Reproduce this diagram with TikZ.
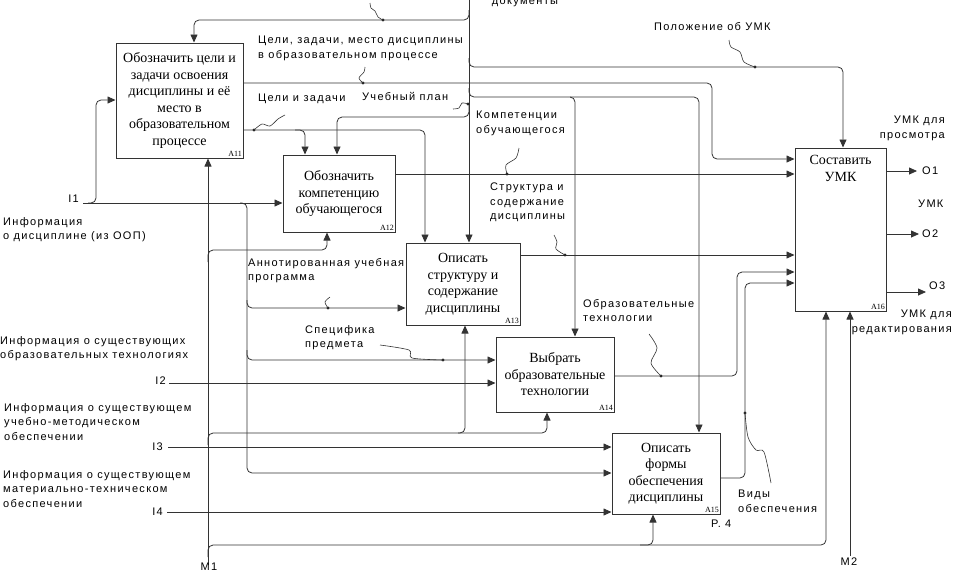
\documentclass[tikz,border=0pt]{standalone}
\usepackage{fontspec}
\setmainfont{Liberation Serif}
\newfontfamily\labfont{Liberation Sans}[LetterSpace=12]
\usetikzlibrary{arrows.meta,positioning}
\tikzset{
  >={Triangle[length=8pt,width=7pt]},
  box/.style={draw=black!80, line width=1pt, align=center, inner sep=2pt,
    font=\fontsize{14}{16.5}\selectfont},
  boxtext/.style={align=center, inner sep=0pt, font=\fontsize{14}{16.5}\selectfont},
  num/.style={inner sep=1.5pt, font=\fontsize{8}{9}\selectfont},
  lab/.style={align=left, inner sep=0pt, font=\labfont\fontsize{11}{14.5}\selectfont},
  conn/.style={draw=black!80, line width=0.8pt, rounded corners=5pt},
  leader/.style={draw=black!80, line width=0.6pt}
}

\begin{document}
\begin{tikzpicture}[x=1pt,y=-1pt]
        \useasboundingbox (0,0) rectangle (953,574);

        % Boxes
        \node[box, minimum width=127pt, minimum height=115pt] (A11) at (179.5,100.5)
          {Обозначить цели и\\задачи освоения\\дисциплины и её\\место в\\образовательном\\процессе};
        \node[box, minimum width=112pt, minimum height=77pt] (A12) at (339,193.5)
          {Обозначить\\компетенцию\\обучающегося};
        \node[box, minimum width=114pt, minimum height=82pt] (A13) at (463,284)
          {Описать\\структуру и\\содержание\\дисциплины};
        \node[box, minimum width=118pt, minimum height=75pt] (A14) at (555,374.5)
          {Выбрать\\образовательные\\технологии};
        \node[box, minimum width=108pt, minimum height=81pt] (A15) at (666,473.5)
          {Описать\\формы\\обеспечения\\дисциплины};
        \node[box, minimum width=91pt, minimum height=163pt] (A16) at (840.5,229.5) {};
        \node[boxtext, below=8pt of A16.north] (A16t) {Составить\\УМК};
        \node[num, anchor=south east] (A11n) at (A11.south east) {A11};
        \node[num, anchor=south east] (A12n) at (A12.south east) {A12};
        \node[num, anchor=south east] (A13n) at (A13.south east) {A13};
        \node[num, anchor=south east] (A14n) at (A14.south east) {A14};
        \node[num, anchor=south east] (A15n) at (A15.south east) {A15};
        \node[num, anchor=south east] (A16n) at (A16.south east) {A16};

        % Ends of the borders
        \coordinate (I1) at (83,203);
        \coordinate (I2) at (169,383);
        \coordinate (I3) at (168,447);
        \coordinate (I4) at (167,512);
        \coordinate (C1) at (469,0);
        \coordinate (M1) at (208,565);
        \coordinate (M2) at (850,556);
        \coordinate (O1) at (917,171);
        \coordinate (O2) at (919,234);
        \coordinate (O3) at (926,292);

        % Inputs
        \draw[conn,->] (I1) -- (A12.west |- I1);
        \draw[conn,->] (88,203) -- (96,203) -- (96,100) -- (A11.west |- 0,100);
        \draw[conn,->] (240,203) -- (247,203) -- (247,308) -- (A13.west |- 0,308);
        \draw[conn,->] (247,300) -- (247,360) -- (A14.west |- 0,360);
        \draw[conn,->] (247,350) -- (247,473) -- (A15.west |- 0,473);
        \draw[conn,->] (I2) -- (A14.west |- I2);
        \draw[conn,->] (I3) -- (A15.west |- I3);
        \draw[conn,->] (I4) -- (A15.west |- I4);

        % Controls
        \draw[conn,->] (C1) -- (A13.north -| C1);
        \draw[conn,->] (469,10) -- (469,20) -- (194,20) -- (A11.north -| 194,0);
        \draw[conn,->] (469,58) -- (469,67) -- (843,67) -- (A16.north -| 843,0);
        \draw[conn,->] (469,88) -- (469,97) -- (575,97) -- (A14.north -| 575,0);
        \draw[conn,->] (570,97) -- (699,97) -- (A15.north -| 699,0);
        \draw[conn,->] (469,104) -- (469,117) -- (337,117) -- (A12.north -| 337,0);

        % Links between the boxes
        \draw[conn,->] (A11.east |- 0,83) -- (712,83) -- (712,159) -- (A16.west |- 0,159);
        \draw[conn,->] (A11.east |- 0,130) -- (425,130) -- (A13.north -| 425,0);
        \draw[conn,->] (295,130) -- (305,130) -- (A12.north -| 305,0);
        \draw[conn,->] (A12.east |- 0,174) -- (A16.west |- 0,174);
        \draw[conn,->] (A13.east |- 0,255) -- (A16.west |- 0,255);
        \draw[conn,->] (A14.east |- 0,376) -- (737,376) -- (737,272) -- (A16.west |- 0,272);
        \draw[conn,->] (A15.east |- 0,478) -- (745,478) -- (745,283) -- (A16.west |- 0,283);

        % Outputs
        \draw[conn,->] (A16.east |- O1) -- (O1);
        \draw[conn,->] (A16.east |- O2) -- (O2);
        \draw[conn,->] (A16.east |- O3) -- (O3);

        % Mechanisms
        \draw[conn,->] (M1) -- (A11.south -| M1);
        \draw[conn,->] (208,262) -- (208,250) -- (327,250) -- (A12.south -| 327,0);
        \draw[conn,->] (208,445) -- (208,433) -- (465,433) -- (A13.south -| 465,0);
        \draw[conn,->] (458,433) -- (547,433) -- (A14.south -| 547,0);
        \draw[conn,->] (208,557) -- (208,545) -- (826,545) -- (A16.south -| 826,0);
        \draw[conn,->] (640,545) -- (653,545) -- (A15.south -| 653,0);
        \draw[conn,->] (M2) -- (A16.south -| M2);

        % Dots and squiggles
        \foreach \x/\y in {383/20, 755/67, 363/83, 254/130, 468/104, 507/174,
                           565/255, 328/308, 443/360, 661/376, 745/413}
          \fill[black!85] (\x,\y) circle (1.7pt);
        \draw[leader] plot[smooth] coordinates {(383,20) (378,17) (375,11) (371,8) (370,3)};
        \draw[leader] plot[smooth] coordinates {(755,67) (744,62) (740,52) (731,47) (729,40)};
        \draw[leader] plot[smooth] coordinates {(363,83) (359,78) (364,72) (365,67)};
        \draw[leader] plot[smooth] coordinates {(254,130) (262,124) (270,126) (278,119) (285,115)};
        \draw[leader] plot[smooth] coordinates {(468,104) (462,103) (459,108) (453,109)};
        \draw[leader] plot[smooth] coordinates {(507,174) (506,165) (516,158) (519,148)};
        \draw[leader] plot[smooth] coordinates {(565,255) (556,249) (557,242) (554,235)};
        \draw[leader] plot[smooth] coordinates {(328,308) (325,302) (330,297)};
        \draw[leader] plot[smooth] coordinates {(443,360) (412,358) (409,350) (380,345)};
        \draw[leader] plot[smooth] coordinates {(661,376) (651,363) (657,348) (649,334)};
        \draw[leader] plot[smooth] coordinates {(745,413) (748,437) (756,450) (764,452) (771,483)};

        % Arrow labels
        \node[lab, anchor=north] (Ldoc) at (525,-2) {документы};
        \node[lab, anchor=north west] (Lgoal) at (258,36) {Цели, задачи, место дисциплины\\в образовательном процессе};
        \node[lab, anchor=north west] (Ltask) at (258,94) {Цели и задачи};
        \node[lab, anchor=north west] (Lplan) at (362,92) {Учебный план};
        \node[lab, anchor=north west] (Lpol) at (654,22) {Положение об УМК};
        \node[lab, anchor=north west] (Lcomp) at (476,111) {Компетенции\\обучающегося};
        \node[lab, anchor=north west] (Lstr) at (490,183) {Структура и\\содержание\\дисциплины};
        \node[lab, anchor=north west] (Lann) at (248,258) {Аннотированная учебная\\программа};
        \node[lab, anchor=north west] (Lspec) at (305,325) {Специфика\\предмета};
        \node[lab, anchor=north west] (Ltech) at (583,299) {Образовательные\\технологии};
        \node[lab, anchor=north west] (Lkind) at (738,490) {Виды\\обеспечения};
        \node[lab, anchor=north west] (Lp4) at (711,520) {Р. 4};
        \node[lab, anchor=north east, align=right] (Lview) at (945,116) {УМК для\\просмотра};
        \node[lab, anchor=north west] (Lumk) at (918,200) {УМК};
        \node[lab, anchor=north east, align=right] (Ledit) at (952,310) {УМК для\\редактирования};

        % Border labels
        \node[lab, anchor=west] (LO1) at (922,171) {O1};
        \node[lab, anchor=west] (LO2) at (922,234) {O2};
        \node[lab, anchor=west] (LO3) at (929,286) {O3};
        \node[lab, anchor=east] (LI1) at (79,199) {I1};
        \node[lab, anchor=east] (LI2) at (166,381) {I2};
        \node[lab, anchor=east] (LI3) at (163,447) {I3};
        \node[lab, anchor=east] (LI4) at (163,512) {I4};
        \node[lab, anchor=north] (LM1) at (209,563) {M1};
        \node[lab, anchor=north] (LM2) at (849,558) {M2};
        \node[lab, anchor=north west] (Linf1) at (3,217) {Информация\\о дисциплине (из ООП)};
        \node[lab, anchor=north west] (Linf2) at (0,336) {Информация о существующих\\образовательных технологиях};
        \node[lab, anchor=north west] (Linf3) at (4,403) {Информация о существующем\\учебно-методическом\\обеспечении};
        \node[lab, anchor=north west] (Linf4) at (3,470) {Информация о существующем\\материально-техническом\\обеспечении};
    \end{tikzpicture}
\end{document}
